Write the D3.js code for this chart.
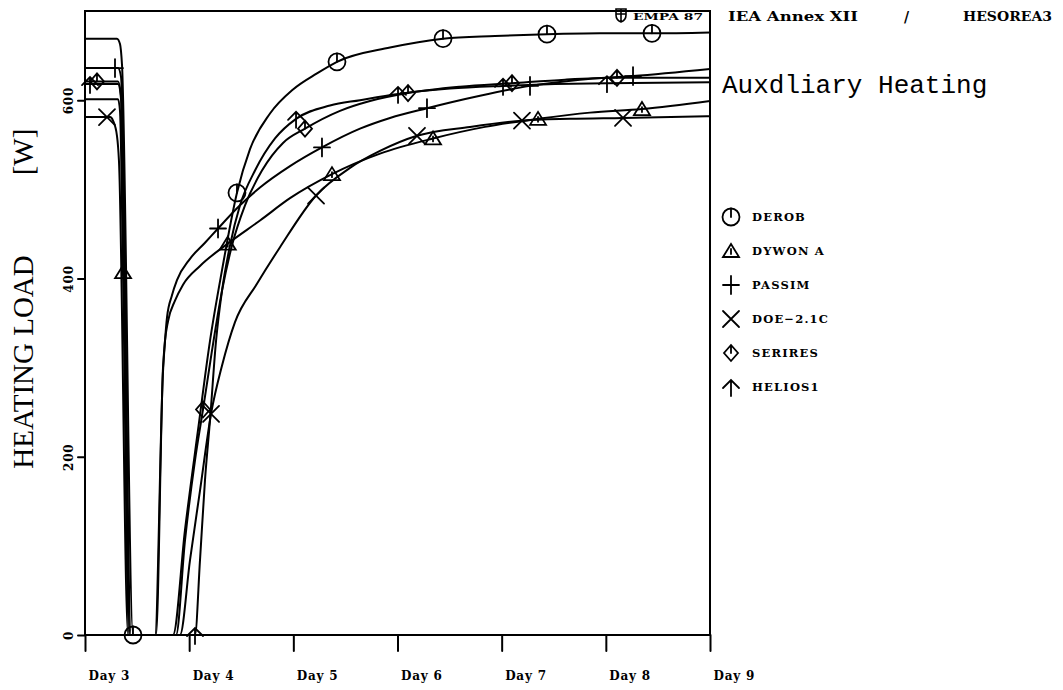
<!DOCTYPE html>
<html>
<head>
<meta charset="utf-8">
<script src="https://cdn.jsdelivr.net/npm/d3@7"></script>
<style>
  body { margin: 0; background: #fff; }
  svg { display: block; }
</style>
</head>
<body>
<script>
// x in days, y in W
const dayTicks = [3, 4, 5, 6, 7, 8, 9];
const dayLabels = ["Day 3", "Day 4", "Day 5", "Day 6", "Day 7", "Day 8", "Day 9"];
const loadTicks = [0, 200, 400, 600];

const derob = [[3.000,669],[3.307,669],[3.336,663],[3.355,640],[3.461,0],[3.845,0],[3.960,118],[4.085,230],[4.200,330],[4.315,409],[4.459,496],[4.584,545],[4.776,585],[4.997,612],[5.227,630],[5.419,643],[5.928,659],[6.437,669],[6.936,672],[7.435,674],[7.944,675],[8.443,675],[9.000,676]];
const dywon = [[3.000,601],[3.317,601],[3.336,588],[3.365,407],[3.422,0],[3.682,0],[3.749,300],[3.768,330],[3.797,352],[3.864,375],[3.941,393],[4.104,414],[4.370,439],[4.680,465],[4.968,490],[5.371,517],[5.832,540],[6.341,557],[6.840,570],[7.349,579],[7.848,586],[8.347,590],[9.000,599]];
const passim = [[3.000,636],[3.317,636],[3.346,626],[3.442,0],[3.672,0],[3.749,296],[3.768,330],[3.787,356],[3.835,381],[3.883,398],[4.008,422],[4.152,440],[4.277,456],[4.488,482],[4.680,502],[4.968,526],[5.275,547],[5.640,568],[5.928,580],[6.283,591],[6.792,605],[7.272,616],[7.752,623],[8.261,627],[9.000,635]];
const doe = [[3.000,581],[3.240,581],[3.269,577],[3.307,560],[3.326,532],[3.413,0],[3.912,0],[4.008,84],[4.104,162],[4.210,248],[4.315,302],[4.440,351],[4.651,394],[4.872,435],[5.218,493],[5.544,524],[5.832,543],[6.187,560],[6.696,570],[7.195,577],[7.656,579],[8.165,580],[9.000,582]];
const serires = [[3.000,621],[3.317,621],[3.346,605],[3.432,0],[3.874,0],[3.960,106],[4.056,196],[4.133,253],[4.219,319],[4.315,386],[4.411,437],[4.536,482],[4.699,521],[4.901,552],[5.112,568],[5.448,588],[5.736,599],[6.101,608],[6.600,615],[7.099,619],[7.608,623],[8.107,625],[9.000,625]];
const helios = [[3.000,618],[3.317,618],[3.346,601],[3.432,0],[4.056,0],[4.104,84],[4.152,174],[4.200,241],[4.258,330],[4.315,386],[4.392,437],[4.488,482],[4.632,521],[4.824,557],[5.026,579],[5.352,594],[5.640,600],[6.005,607],[6.504,613],[7.013,616],[7.512,618],[8.011,619],[9.000,620]];

// marker points, one per day
const derobMarks = [[3.461,0],[4.459,496],[5.419,643],[6.437,669],[7.435,674],[8.443,675]];
const dywonMarks = [[3.365,407],[4.370,439],[5.371,517],[6.341,557],[7.349,579],[8.347,590]];
const passimMarks = [[3.288,636],[4.277,456],[5.275,547],[6.283,591],[7.272,616],[8.261,627]];
const doeMarks = [[3.211,581],[4.210,248],[5.218,493],[6.187,560],[7.195,577],[8.165,580]];
const seriresMarks = [[3.115,621],[4.133,253],[5.112,568],[6.101,608],[7.099,619],[8.107,625]];
const heliosMarks = [[3.048,618],[4.056,0],[5.026,579],[6.005,607],[7.013,616],[8.011,619]];

const series = [
  { name: "DEROB", symbol: "circle", values: derob, marks: derobMarks },
  { name: "DYWON  A", symbol: "triangle", values: dywon, marks: dywonMarks },
  { name: "PASSIM", symbol: "plus", values: passim, marks: passimMarks },
  { name: "DOE\u22122.1C", symbol: "cross", values: doe, marks: doeMarks },
  { name: "SERIRES", symbol: "diamond", values: serires, marks: seriresMarks },
  { name: "HELIOS1", symbol: "arrow", values: helios, marks: heliosMarks },
];

const width = 1063, height = 690;
const margin = { left: 85, right: 353, top: 11, bottom: 55 };
const slab = '"DejaVu Serif", serif';

const svg = d3.select("body").append("svg")
  .attr("width", width).attr("height", height)
  .attr("stroke-linecap", "round");

const x = d3.scaleLinear().domain([3, 9]).range([margin.left, width - margin.right]);
const y = d3.scaleLinear().domain([0, 700]).range([height - margin.bottom, margin.top]);

// symbols drawn around 0,0
const drawSymbol = (g, type) => {
  const s = g.attr("fill", "none").attr("stroke", "#000").attr("stroke-width", 1.8);
  if (type === "circle") {
    s.append("circle").attr("r", 8.5);
    s.append("path").attr("d", "M0,-8.5V0");
  } else if (type === "triangle") {
    s.append("path").attr("d", "M-8,6L0,-7L8,6Z M0,-2V3");
  } else if (type === "plus") {
    s.append("path").attr("d", "M-8,0H8 M0,-9V9");
  } else if (type === "cross") {
    s.append("path").attr("d", "M-8,-8L8,8 M-8,8L8,-8");
  } else if (type === "diamond") {
    s.append("path").attr("d", "M0,-8L7,0L0,8L-7,0Z M0,-8V0");
  } else if (type === "arrow") {
    s.append("path").attr("d", "M-8,1L0,-7L8,1 M0,-7V9");
  }
};

// frame
svg.append("rect")
  .attr("x", x(3)).attr("y", y(700))
  .attr("width", x(9) - x(3)).attr("height", y(0) - y(700))
  .attr("fill", "none").attr("stroke", "#000").attr("stroke-width", 2);

// x axis
const gx = svg.append("g")
  .attr("transform", `translate(0,${y(0)})`)
  .call(d3.axisBottom(x).tickValues(dayTicks).tickSize(16).tickSizeOuter(0)
    .tickFormat((d, i) => dayLabels[i]));
gx.select(".domain").remove();
gx.selectAll("line").attr("stroke", "#000").attr("stroke-width", 2);
gx.selectAll("text")
  .attr("text-anchor", "start").attr("x", 3).attr("y", 45).attr("dy", 0)
  .attr("font-family", slab).attr("font-weight", "bold").attr("font-size", 12)
  .attr("letter-spacing", 0.8).attr("fill", "#000");

// y axis
const gy = svg.append("g")
  .attr("transform", `translate(${x(3)},0)`)
  .call(d3.axisLeft(y).tickValues(loadTicks).tickSize(7).tickSizeOuter(0));
gy.select(".domain").remove();
gy.selectAll("line").attr("stroke", "#000").attr("stroke-width", 2);
gy.selectAll("text")
  .attr("transform", "rotate(-90)")
  .attr("text-anchor", "middle").attr("x", 0).attr("y", -12).attr("dy", 0)
  .attr("font-family", slab).attr("font-weight", "bold").attr("font-size", 12)
  .attr("letter-spacing", 0.8).attr("fill", "#000");

// axis title
const serif = '"Liberation Serif", "Times New Roman", serif';
svg.append("text")
  .attr("transform", "translate(33,362) rotate(-90)")
  .attr("text-anchor", "middle").attr("font-family", serif).attr("font-size", 29)
  .text("HEATING  LOAD");
svg.append("text")
  .attr("transform", "translate(33,152) rotate(-90)")
  .attr("text-anchor", "middle").attr("font-family", serif).attr("font-size", 29)
  .text("[W]");

// curves
const line = d3.line()
  .x((d) => x(d[0]))
  .y((d) => y(d[1]))
  .curve(d3.curveMonotoneX);

const plot = svg.append("g");
plot.selectAll("path.curve")
  .data(series)
  .enter()
  .append("path")
  .attr("class", "curve")
  .attr("d", (d) => line(d.values))
  .attr("fill", "none")
  .attr("stroke", "#000")
  .attr("stroke-width", 2);

series.forEach((s) => {
  plot.append("g").selectAll("g")
    .data(s.marks)
    .enter()
    .append("g")
    .attr("transform", (d) => `translate(${x(d[0])},${y(d[1])})`)
    .each(function () { drawSymbol(d3.select(this), s.symbol); });
});

// legend
const legend = svg.append("g").attr("transform", "translate(731,217)");
const item = legend.selectAll("g")
  .data(series)
  .enter()
  .append("g")
  .attr("transform", (d, i) => `translate(0,${i * 34})`);
item.each(function (d) { drawSymbol(d3.select(this).append("g"), d.symbol); });
item.append("text")
  .attr("x", 21).attr("y", 4)
  .attr("font-family", slab).attr("font-weight", "bold").attr("font-size", 11.5)
  .attr("letter-spacing", 1.2)
  .text((d) => d.name);

// header texts
svg.append("text")
  .attr("x", 728).attr("y", 21)
  .attr("font-family", slab).attr("font-weight", "bold").attr("font-size", 12)
  .attr("textLength", 130).attr("lengthAdjust", "spacingAndGlyphs")
  .text("IEA Annex XII");
svg.append("text")
  .attr("x", 904).attr("y", 22)
  .attr("font-family", slab).attr("font-weight", "bold").attr("font-size", 14)
  .text("/");
svg.append("text")
  .attr("x", 963).attr("y", 21)
  .attr("font-family", slab).attr("font-weight", "bold").attr("font-size", 12)
  .attr("textLength", 89).attr("lengthAdjust", "spacingAndGlyphs")
  .text("HESOREA3");
svg.append("text")
  .attr("x", 722).attr("y", 93)
  .attr("font-family", '"Liberation Mono", "Courier New", monospace')
  .attr("font-size", 26)
  .text("Auxdliary Heating");

// EMPA mark
const empa = svg.append("g").attr("transform", "translate(621,9)");
empa.append("path")
  .attr("d", "M-5,0H5V6Q5,11 0,13Q-5,11 -5,6Z M-5,5H5 M0,0V13")
  .attr("fill", "none").attr("stroke", "#000").attr("stroke-width", 1.6);
svg.append("text")
  .attr("x", 633).attr("y", 20)
  .attr("font-family", slab).attr("font-weight", "bold").attr("font-size", 9)
  .attr("textLength", 70).attr("lengthAdjust", "spacingAndGlyphs")
  .text("EMPA 87");
</script>
</body>
</html>
